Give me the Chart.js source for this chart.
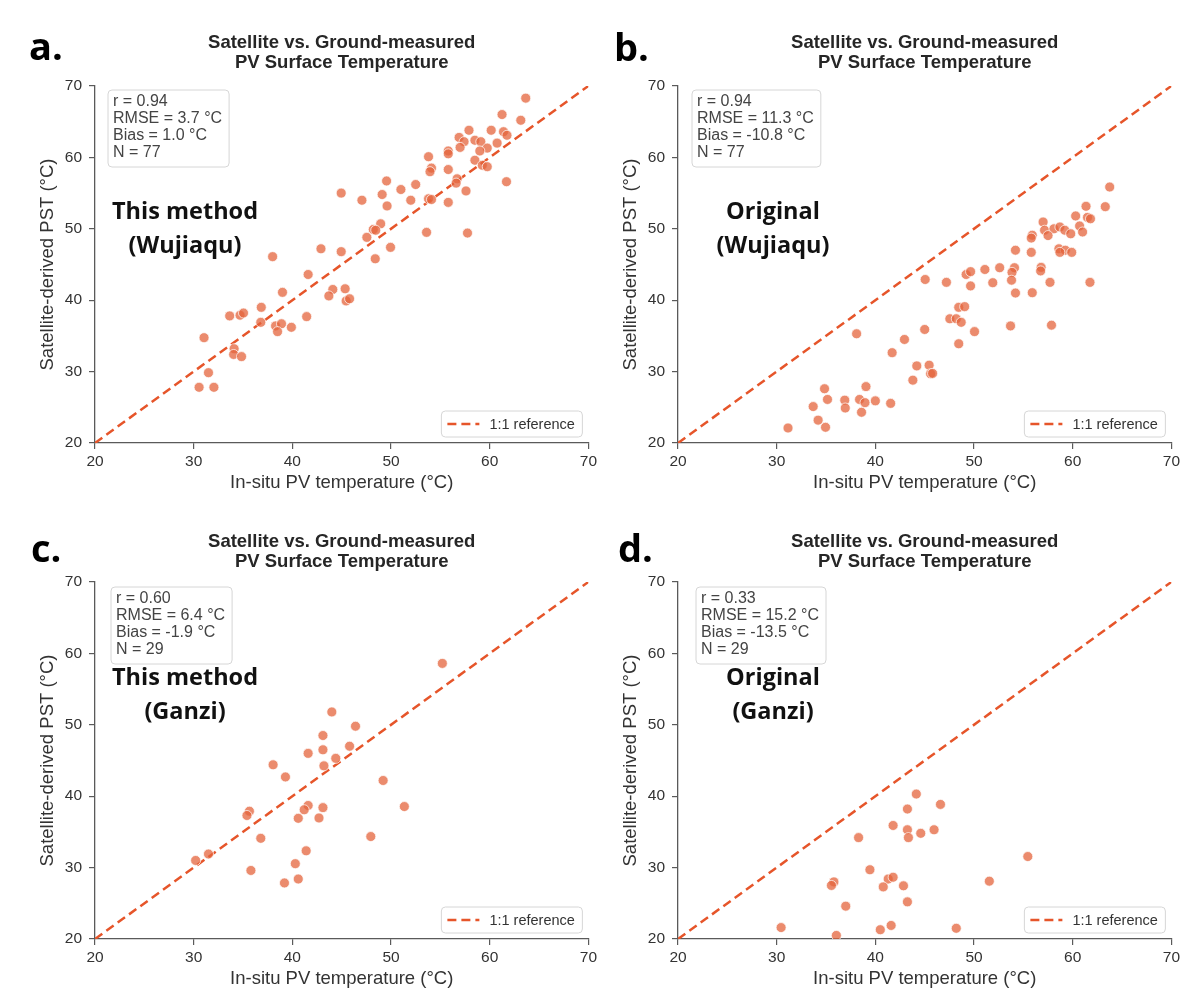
<!DOCTYPE html>
<html>
<head>
<meta charset="utf-8">
<script src="https://cdn.jsdelivr.net/npm/chart.js@4.4.1/dist/chart.umd.min.js"></script>
<style>
  body { margin: 0; background: #fff; width: 1200px; height: 1000px; position: relative; overflow: hidden; }
  .panel { position: absolute; width: 600px; height: 500px; }
</style>
</head>
<body>
<div class="panel" style="left:0;top:0"><canvas id="chartA" width="600" height="500"></canvas></div>
<div class="panel" style="left:583px;top:0"><canvas id="chartB" width="600" height="500"></canvas></div>
<div class="panel" style="left:0;top:496px"><canvas id="chartC" width="600" height="500"></canvas></div>
<div class="panel" style="left:583px;top:496px"><canvas id="chartD" width="600" height="500"></canvas></div>
<script>
// axis range + ticks
const AXIS_MIN = 20;
const AXIS_MAX = 70;
const TICK_STEP = 10;
const REF_LINE = [20, 70]; // 1:1 line end points

const TITLE_LINES = ["Satellite vs. Ground-measured", "PV Surface Temperature"];
const X_LABEL = "In-situ PV temperature (°C)";
const Y_LABEL = "Satellite-derived PST (°C)";
const REF_LABEL = "1:1 reference";

// a. This method (Wujiaqu)
const A_X = [63.65,61.25,63.15,57.9,60.15,61.4,61.75,56.9,57.4,58.5,59.1,60.75,57.0,59.75,59.0,55.8,55.8,53.8,58.5,59.25,59.75,54.1,53.95,55.8,61.7,56.7,56.6,49.55,51.0,52.5,44.95,49.1,47.05,52.0,53.8,54.1,57.6,55.8,49.6,48.95,48.2,48.45,47.55,53.6,57.75,49.95,48.4,42.9,44.95,38.0,41.6,39.0,44.1,45.35,43.7,45.45,45.8,36.85,33.65,34.7,35.05,36.8,41.45,38.3,38.9,38.5,39.9,31.05,34.1,34.05,34.85,31.5,30.55,32.05];
const A_Y = [68.3,66.0,65.2,63.8,63.8,63.6,63.1,62.8,62.2,62.4,62.2,62.0,61.4,61.3,60.9,60.9,60.5,60.1,59.6,58.9,58.7,58.5,58.0,58.3,56.6,57.0,56.4,56.7,55.5,56.2,55.0,54.8,54.0,54.0,54.2,54.1,55.3,53.7,53.2,50.7,49.9,49.8,48.8,49.5,49.4,47.4,45.8,47.2,46.8,46.1,43.6,41.1,41.5,41.6,40.6,39.9,40.2,39.0,37.8,37.9,38.2,36.9,37.7,36.4,36.7,35.6,36.2,34.75,33.2,32.4,32.1,29.85,27.8,27.8];
const A_STATS = ["r = 0.94", "RMSE = 3.7 °C", "Bias = 1.0 °C", "N = 77"];
const A_NAME = ["This method", "(Wujiaqu)"];

// b. Original (Wujiaqu)
const B_X = [63.75,61.35,63.3,60.3,61.5,61.8,57.0,57.15,58.1,58.7,59.2,60.7,61.0,59.8,57.5,55.9,55.8,54.2,55.8,58.6,59.25,59.9,58.7,54.1,53.85,53.8,51.1,52.6,56.8,56.75,57.7,61.75,49.2,49.65,49.65,51.9,47.2,45.05,54.2,55.9,48.45,49.05,47.55,48.2,48.7,53.7,57.85,50.05,45.0,38.1,48.45,42.95,41.7,44.2,45.45,45.6,45.8,43.8,39.05,34.85,35.15,33.7,36.9,36.95,38.4,38.95,38.6,40.0,41.55,34.2,34.95,31.15];
const B_Y = [55.85,53.15,53.1,51.8,51.6,51.4,50.95,49.8,50.0,50.25,49.8,50.4,49.55,49.3,49.05,49.1,48.7,47.0,46.7,47.2,47.0,46.7,46.7,44.55,43.9,42.8,44.3,44.55,44.6,44.1,42.5,42.5,43.6,44.0,42.0,42.45,42.5,42.9,41.0,41.05,39.0,39.1,37.4,37.4,36.9,36.4,36.5,35.6,35.9,35.3,33.9,34.5,32.65,30.8,30.9,29.7,29.75,28.8,27.9,27.6,26.1,25.1,26.0,24.9,26.1,25.65,24.3,25.9,25.55,23.2,22.2,22.1];
const B_STATS = ["r = 0.94", "RMSE = 11.3 °C", "Bias = -10.8 °C", "N = 77"];
const B_NAME = ["Original", "(Wujiaqu)"];

// c. This method (Ganzi)
const C_X = [55.2,44.0,46.4,43.1,41.6,43.1,45.8,44.4,43.2,38.05,39.3,49.2,35.65,35.4,41.6,41.2,43.1,51.35,40.6,42.7,36.8,47.95,41.4,31.5,30.2,40.3,35.8,40.6,39.2];
const C_Y = [58.6,51.8,49.8,48.5,46.0,46.5,47.0,45.3,44.25,44.4,42.7,42.2,37.9,37.3,38.7,38.1,38.4,38.55,36.9,36.95,34.1,34.35,32.35,31.9,31.0,30.55,29.6,28.4,27.85];
const C_STATS = ["r = 0.60", "RMSE = 6.4 °C", "Bias = -1.9 °C", "N = 29"];
const C_NAME = ["This method", "(Ganzi)"];

// d. Original (Ganzi)
const D_X = [55.45,44.15,46.6,43.25,41.8,43.25,45.95,44.6,43.35,38.3,39.45,51.55,35.8,35.55,41.3,41.8,40.8,42.85,37.0,43.25,30.45,36.05,40.5,41.6,48.2];
const D_Y = [31.55,40.3,38.85,38.2,35.9,35.3,35.3,34.8,34.2,34.2,29.7,28.1,28.0,27.5,28.4,28.65,27.3,27.45,24.6,25.2,21.6,20.5,21.3,21.9,21.5];
const D_STATS = ["r = 0.33", "RMSE = 15.2 °C", "Bias = -13.5 °C", "N = 29"];
const D_NAME = ["Original", "(Ganzi)"];

const POINT_COLOR = "rgba(228,100,60,0.75)";
const REF_COLOR = "#e6552a";
const AXIS_COLOR = "#5a5a5a";
const SANS = '"Liberation Sans", Arial, sans-serif';
const BOLD_LABEL = '"Open Sans", "Noto Sans", sans-serif';

// text, stats box, method name and legend drawn over the plot
const overlay = {
    id: "overlay",
    afterDraw(chart, args, o) {
        const { ctx, chartArea: a } = chart;
        ctx.save();

        // panel letter
        ctx.fillStyle = "#000";
        ctx.font = "bold 38px " + BOLD_LABEL;
        ctx.textAlign = "left";
        ctx.textBaseline = "alphabetic";
        ctx.fillText(o.letter, o.letterX, o.letterY);

        // title
        const cx = (a.left + a.right) / 2;
        ctx.fillStyle = "#262626";
        ctx.font = "bold 18.5px " + SANS;
        ctx.textAlign = "center";
        ctx.textBaseline = "middle";
        TITLE_LINES.forEach((t, i) => ctx.fillText(t, cx, o.titleY + i * 20));

        // stats box
        ctx.font = "16px " + SANS;
        const w = Math.max(...o.stats.map((s) => ctx.measureText(s).width)) + 12;
        const bx = a.left + o.boxDx, by = a.top + o.boxDy;
        ctx.beginPath();
        ctx.roundRect(bx, by, w, 77, 4);
        ctx.fillStyle = "rgba(255,255,255,0.8)";
        ctx.fill();
        ctx.strokeStyle = "#d6d6d6";
        ctx.lineWidth = 1;
        ctx.stroke();
        ctx.fillStyle = "#444";
        ctx.textAlign = "left";
        o.stats.forEach((s, i) => ctx.fillText(s, bx + 5, by + 12 + i * 17));

        // method / site label
        ctx.fillStyle = "#111";
        ctx.font = "bold 23.5px " + BOLD_LABEL;
        ctx.textAlign = "center";
        o.name.forEach((s, i) => ctx.fillText(s, a.left + o.nameDx, a.top + o.nameDy + i * 34.5));

        // legend
        const lw = 141, lh = 26;
        const lx = a.right - 6 - lw, ly = a.bottom - 6 - lh;
        ctx.beginPath();
        ctx.roundRect(lx, ly, lw, lh, 4);
        ctx.fillStyle = "rgba(255,255,255,0.8)";
        ctx.fill();
        ctx.strokeStyle = "#d6d6d6";
        ctx.stroke();
        ctx.beginPath();
        ctx.setLineDash([9, 5]);
        ctx.strokeStyle = REF_COLOR;
        ctx.lineWidth = 2.5;
        ctx.moveTo(lx + 6, ly + lh / 2);
        ctx.lineTo(lx + 38, ly + lh / 2);
        ctx.stroke();
        ctx.setLineDash([]);
        ctx.fillStyle = "#333";
        ctx.font = "14.5px " + SANS;
        ctx.textAlign = "left";
        ctx.fillText(REF_LABEL, lx + 48, ly + lh / 2 + 1);

        ctx.restore();
    },
};

function makePanel(id, xs, ys, o) {
    const ctx = document.getElementById(id).getContext("2d");
    return new Chart(ctx, {
        type: "scatter",
        data: {
            datasets: [
                {
                    label: "points",
                    data: xs.map((x, i) => ({ x: x, y: ys[i] })),
                    backgroundColor: POINT_COLOR,
                    borderColor: "rgba(255,255,255,0.9)",
                    borderWidth: 0.8,
                    pointRadius: 5,
                    pointHoverRadius: 5,
                },
                {
                    label: REF_LABEL,
                    data: REF_LINE.map((v) => ({ x: v, y: v })),
                    showLine: true,
                    borderColor: REF_COLOR,
                    borderWidth: 2.5,
                    borderDash: [9, 5],
                    pointRadius: 0,
                    fill: false,
                },
            ],
        },
        options: {
            responsive: false,
            animation: false,
            layout: { padding: { top: 86, right: 4, left: 0, bottom: 0 } },
            plugins: {
                legend: { display: false },
                tooltip: { enabled: false },
                overlay: o,
            },
            scales: {
                x: {
                    type: "linear",
                    min: AXIS_MIN,
                    max: AXIS_MAX,
                    ticks: { stepSize: TICK_STEP, color: "#333", font: { family: SANS, size: 15.5 }, padding: 3, maxRotation: 0 },
                    grid: { drawOnChartArea: false, tickLength: 6, color: AXIS_COLOR, lineWidth: 1.2 },
                    border: { color: AXIS_COLOR, width: 1.3 },
                    title: { display: true, text: X_LABEL, color: "#333", font: { family: SANS, size: 18.5 }, padding: { top: 0, bottom: 6 } },
                    afterFit: (s) => { s.height = 57; },
                },
                y: {
                    type: "linear",
                    min: AXIS_MIN,
                    max: AXIS_MAX,
                    ticks: { stepSize: TICK_STEP, color: "#333", font: { family: SANS, size: 15.5 }, padding: 7 },
                    grid: { drawOnChartArea: false, tickLength: 6, color: AXIS_COLOR, lineWidth: 1.2 },
                    border: { color: AXIS_COLOR, width: 1.3 },
                    title: { display: true, text: Y_LABEL, color: "#333", font: { family: SANS, size: 18.5 }, padding: { top: 37, bottom: 0 } },
                    afterFit: (s) => { s.width = 95; },
                },
            },
        },
        plugins: [overlay],
    });
}

makePanel("chartA", A_X, A_Y, { letter: "a.", letterX: 29, letterY: 60, titleY: 43, stats: A_STATS, boxDx: 13, boxDy: 4, name: A_NAME, nameDx: 90, nameDy: 126 });
makePanel("chartB", B_X, B_Y, { letter: "b.", letterX: 31, letterY: 61, titleY: 43, stats: B_STATS, boxDx: 14, boxDy: 4, name: B_NAME, nameDx: 95, nameDy: 126 });
makePanel("chartC", C_X, C_Y, { letter: "c.", letterX: 31, letterY: 66, titleY: 46, stats: C_STATS, boxDx: 16, boxDy: 5, name: C_NAME, nameDx: 90, nameDy: 96 });
makePanel("chartD", D_X, D_Y, { letter: "d.", letterX: 35, letterY: 66, titleY: 46, stats: D_STATS, boxDx: 18, boxDy: 5, name: D_NAME, nameDx: 95, nameDy: 96 });
</script>
</body>
</html>
